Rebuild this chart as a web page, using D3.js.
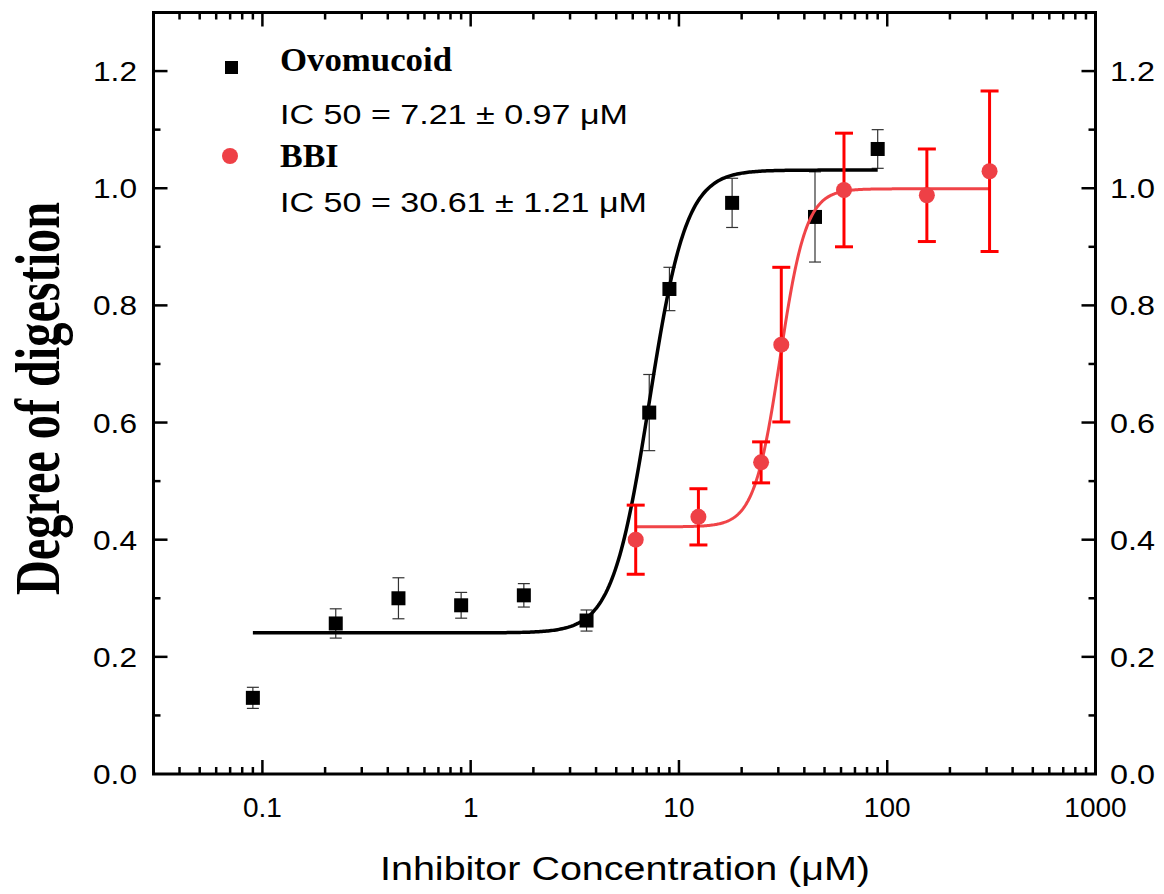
<!DOCTYPE html>
<html>
<head>
<meta charset="utf-8">
<script src="https://cdn.jsdelivr.net/npm/d3@7"></script>
<style>
  body{ margin:0; background:#fff; }
  svg{ display:block; }
  .tick-label{ font-family:"Liberation Sans", Arial, sans-serif; font-size:28px; fill:#000; }
</style>
</head>
<body>
<svg id="chart" width="1164" height="894"></svg>
<script>
// Ovomucoid (black squares)
const ovoConc = [0.09, 0.225, 0.45, 0.9, 1.8, 3.6, 7.2, 9, 18, 45, 90];
const ovoMean = [0.130, 0.257, 0.300, 0.288, 0.305, 0.262, 0.617, 0.828, 0.975, 0.951, 1.067];
const ovoErr  = [0.018, 0.025, 0.035, 0.022, 0.020, 0.018, 0.065, 0.037, 0.042, 0.077, 0.033];
const ovoFit  = {A1:0.241, A2:1.031, x0:7.21, p:4.9, from:0.09, to:90};

// BBI (red circles)
const bbiConc = [6.2, 12.4, 24.8, 31, 62, 155, 310];
const bbiMean = [0.400, 0.439, 0.532, 0.733, 0.997, 0.988, 1.029];
const bbiErr  = [0.059, 0.048, 0.035, 0.132, 0.097, 0.079, 0.137];
const bbiFit  = {A1:0.422, A2:0.999, x0:30.61, p:7.0, from:6.2, to:310};

const xMajor = [0.1, 1, 10, 100, 1000];
const yMajor = [0, 0.2, 0.4, 0.6, 0.8, 1.0, 1.2];

const svg = d3.select("#chart");
const L = 153.5, R = 1095.5, T = 12.5, B = 774;

const x = d3.scaleLog().domain([0.03, 1000]).range([L, R]);
const y = d3.scaleLinear().domain([0, 1.3]).range([B, T]);

// minor ticks on the log axis: 2..9 of each decade inside domain
const xMinor = [];
[0.01, 0.1, 1, 10, 100].forEach(d=>{
  for(let k=2;k<=9;k++){
    const v = d*k;
    if(v>=0.03 && v<1000) xMinor.push(v);
  }
});
const yMinor = d3.range(0.1, 1.3, 0.2);

const g = svg.append("g");

// frame
g.append("rect")
  .attr("x", L).attr("y", T).attr("width", R-L).attr("height", B-T)
  .attr("fill","none").attr("stroke","#000").attr("stroke-width",3);

// ticks (all pointing inward)
function vTicks(vals, len, w){
  vals.forEach(v=>{
    const px = x(v);
    g.append("line").attr("x1",px).attr("x2",px).attr("y1",B).attr("y2",B-len)
      .attr("stroke","#000").attr("stroke-width",w);
    g.append("line").attr("x1",px).attr("x2",px).attr("y1",T).attr("y2",T+len)
      .attr("stroke","#000").attr("stroke-width",w);
  });
}
function hTicks(vals, len, w){
  vals.forEach(v=>{
    const py = y(v);
    g.append("line").attr("x1",L).attr("x2",L+len).attr("y1",py).attr("y2",py)
      .attr("stroke","#000").attr("stroke-width",w);
    g.append("line").attr("x1",R).attr("x2",R-len).attr("y1",py).attr("y2",py)
      .attr("stroke","#000").attr("stroke-width",w);
  });
}
vTicks(xMajor.filter(v=>v<1000), 14, 2.5);
vTicks(xMinor, 7, 2.5);
hTicks(yMajor.filter(v=>v>0), 14, 2.5);
hTicks(yMinor, 7, 2.5);

// tick labels
g.selectAll(".xl").data(xMajor).enter().append("text")
  .attr("class","tick-label").attr("x", d=>x(d)).attr("y", 817)
  .attr("text-anchor","middle").text(d=>d3.format("~g")(d));
g.selectAll(".yl").data(yMajor).enter().append("text")
  .attr("class","tick-label").attr("x", 93).attr("y", d=>y(d)+10)
  .attr("textLength",44).attr("lengthAdjust","spacingAndGlyphs")
  .text(d=>d.toFixed(1));
g.selectAll(".yr").data(yMajor).enter().append("text")
  .attr("class","tick-label").attr("x", 1110).attr("y", d=>y(d)+10)
  .attr("textLength",45).attr("lengthAdjust","spacingAndGlyphs")
  .text(d=>d.toFixed(1));

// axis titles
svg.append("text")
  .attr("x", 380).attr("y", 880)
  .attr("textLength",490).attr("lengthAdjust","spacingAndGlyphs")
  .style("font-family","'Liberation Sans', Arial, sans-serif").style("font-size","34px")
  .text("Inhibitor Concentration (μM)");
svg.append("text")
  .attr("transform","translate(59,595) rotate(-90)")
  .attr("textLength",393).attr("lengthAdjust","spacingAndGlyphs")
  .style("font-family","'Liberation Serif', 'Times New Roman', serif")
  .style("font-weight","bold").style("font-size","64px")
  .text("Degree of digestion");

// dose-response fits
function doseResp(f, v){ return f.A1 + (f.A2-f.A1)/(1+Math.pow(f.x0/v, f.p)); }
function fitPoints(f){
  const lo = Math.log10(f.from), hi = Math.log10(f.to);
  return d3.range(0, 401).map(i=>{
    const v = Math.pow(10, lo + (hi-lo)*i/400);
    return [v, doseResp(f, v)];
  });
}
const line = d3.line().x(d=>x(d[0])).y(d=>y(d[1]));

// ovomucoid error bars
const ovo = ovoConc.map((c,i)=>({c, m:ovoMean[i], e:ovoErr[i]}));
const ovoBars = g.append("g").attr("stroke","#333").attr("stroke-width",1.2);
ovo.forEach(d=>{
  const px = x(d.c);
  ovoBars.append("line").attr("x1",px).attr("x2",px).attr("y1",y(d.m-d.e)).attr("y2",y(d.m+d.e));
  [d.m-d.e, d.m+d.e].forEach(v=>{
    ovoBars.append("line").attr("x1",px-6).attr("x2",px+6).attr("y1",y(v)).attr("y2",y(v));
  });
});

g.append("path").datum(fitPoints(ovoFit)).attr("d", line)
  .attr("fill","none").attr("stroke","#000").attr("stroke-width",3.5);

g.selectAll(".sq").data(ovo).enter().append("rect")
  .attr("x", d=>x(d.c)-7).attr("y", d=>y(d.m)-7)
  .attr("width",14).attr("height",14).attr("fill","#000");

// BBI
const bbi = bbiConc.map((c,i)=>({c, m:bbiMean[i], e:bbiErr[i]}));
g.append("path").datum(fitPoints(bbiFit)).attr("d", line)
  .attr("fill","none").attr("stroke","#f04448").attr("stroke-width",3);

const bbiBars = g.append("g").attr("stroke","#ff0000").attr("stroke-width",3);
bbi.forEach(d=>{
  const px = x(d.c);
  bbiBars.append("line").attr("x1",px).attr("x2",px).attr("y1",y(d.m-d.e)).attr("y2",y(d.m+d.e));
  [d.m-d.e, d.m+d.e].forEach(v=>{
    bbiBars.append("line").attr("x1",px-9).attr("x2",px+9).attr("y1",y(v)).attr("y2",y(v));
  });
});

g.selectAll(".ci").data(bbi).enter().append("circle")
  .attr("cx", d=>x(d.c)).attr("cy", d=>y(d.m)).attr("r",8).attr("fill","#ee4046");

// legend
const leg = svg.append("g");
leg.append("rect").attr("x",225).attr("y",61).attr("width",13).attr("height",13).attr("fill","#000");
leg.append("circle").attr("cx",230).attr("cy",156).attr("r",8).attr("fill","#ee4046");
const serif = "'Liberation Serif', 'Times New Roman', serif";
const sans = "'Liberation Sans', Arial, sans-serif";
leg.append("text").attr("x",280).attr("y",71).style("font-family",serif).style("font-weight","bold")
  .attr("textLength",172).attr("lengthAdjust","spacingAndGlyphs")
  .style("font-size","34px").text("Ovomucoid");
leg.append("text").attr("x",280).attr("y",124).style("font-family",sans)
  .attr("textLength",348).attr("lengthAdjust","spacingAndGlyphs")
  .style("font-size","27px").text("IC 50 = 7.21 ± 0.97 μM");
leg.append("text").attr("x",280).attr("y",167).style("font-family",serif).style("font-weight","bold")
  .style("font-size","34px").text("BBI");
leg.append("text").attr("x",280).attr("y",212).style("font-family",sans)
  .attr("textLength",367).attr("lengthAdjust","spacingAndGlyphs")
  .style("font-size","27px").text("IC 50 = 30.61 ± 1.21 μM");
</script>
</body>
</html>
